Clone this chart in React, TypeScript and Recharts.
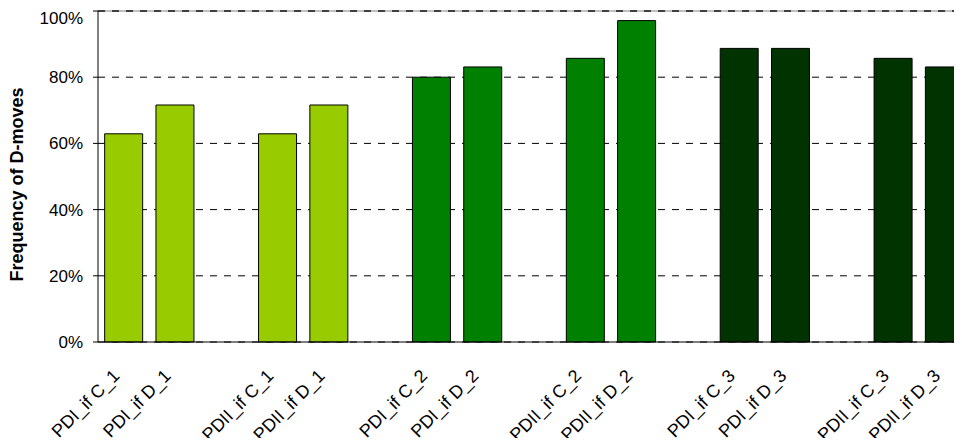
import React from 'react'
import { BarChart, Bar, XAxis, YAxis, CartesianGrid, Cell, ReferenceLine } from 'recharts'

const categories = [
  'PDI_if C_1', 'PDI_if D_1', '',
  'PDII_if C_1', 'PDII_if D_1', '',
  'PDI_if C_2', 'PDI_if D_2', '',
  'PDII_if C_2', 'PDII_if D_2', '',
  'PDI_if C_3', 'PDI_if D_3', '',
  'PDII_if C_3', 'PDII_if D_3',
]
const values: (number | null)[] = [
  62.9, 71.6, null,
  62.9, 71.6, null,
  80, 83.1, null,
  85.7, 97.1, null,
  88.7, 88.7, null,
  85.7, 83.1,
]
const groups = [1, 1, 0, 1, 1, 0, 2, 2, 0, 2, 2, 0, 3, 3, 0, 3, 3]
const yTicks = [0, 20, 40, 60, 80, 100]
const edgeTicks = categories.map((_, i) => i).concat([categories.length])

const GROUP_COLORS = ['#ffffff', '#99cc00', '#008000', '#003300']
const FONT = '"Liberation Sans", Arial, sans-serif'

const data = categories.map((name, i) => ({ name, value: values[i], group: groups[i] }))

const RotatedTick = (props: any) => {
  const { x, y, payload } = props
  if (!payload.value) return null
  return (
    <g transform={`translate(${x - 3},${y + 27})`}>
      <text transform="rotate(-45)" textAnchor="end" fontSize={18} fontFamily={FONT} fill="#000">
        {payload.value}
      </text>
    </g>
  )
}

const YLabel = (props: any) => {
  const { viewBox } = props
  const cx = viewBox.x + 9
  const cy = viewBox.y + viewBox.height / 2 + 8
  return (
    <text
      x={cx}
      y={cy}
      transform={`rotate(-90, ${cx}, ${cy})`}
      textAnchor="middle"
      dominantBaseline="central"
      fontSize={18}
      fontWeight="bold"
      fontFamily={FONT}
      fill="#000"
    >
      Frequency of D-moves
    </text>
  )
}

export default function App() {
  return (
    <div style={{ width: 954, height: 438, marginBottom: -8, overflow: 'hidden' }}>
      <div style={{ width: 962, minWidth: 962, height: 438 }}>
        <BarChart
          width={962}
          height={438}
          data={data}
          margin={{ top: 3, right: 0, bottom: 0, left: 0 }}
          barCategoryGap="13%"
        >
          <CartesianGrid vertical={false} xAxisId="cat" stroke="#000" strokeDasharray="7 7" />
          <XAxis
            xAxisId="edge"
            type="number"
            domain={[0, categories.length]}
            ticks={edgeTicks}
            tick={false}
            axisLine={false}
            tickSize={6}
            tickLine={{ stroke: '#000' }}
            height={0}
            allowDataOverflow
          />
          <XAxis
            xAxisId="cat"
            dataKey="name"
            interval={0}
            height={104}
            tickLine={false}
            axisLine={{ stroke: '#000' }}
            tick={<RotatedTick />}
          />
          <YAxis
            width={90}
            domain={[0, 100]}
            ticks={yTicks}
            tickFormatter={(v: number) => `${v}%`}
            axisLine={{ stroke: '#000' }}
            tickLine={{ stroke: '#000' }}
            tickSize={5}
            tickMargin={10}
            tick={{ fill: '#000', fontSize: 17, fontFamily: FONT }}
            label={{ content: <YLabel /> }}
          />
          <ReferenceLine y={100} xAxisId="cat" stroke="#808080" />
          <ReferenceLine y={100} xAxisId="cat" stroke="#000" strokeDasharray="7 7" />
          <Bar dataKey="value" xAxisId="cat" stroke="#000" strokeWidth={1} isAnimationActive={false}>
            {data.map((d, i) => (
              <Cell key={`cell-${i}`} fill={GROUP_COLORS[d.group]} />
            ))}
          </Bar>
        </BarChart>
      </div>
    </div>
  )
}
